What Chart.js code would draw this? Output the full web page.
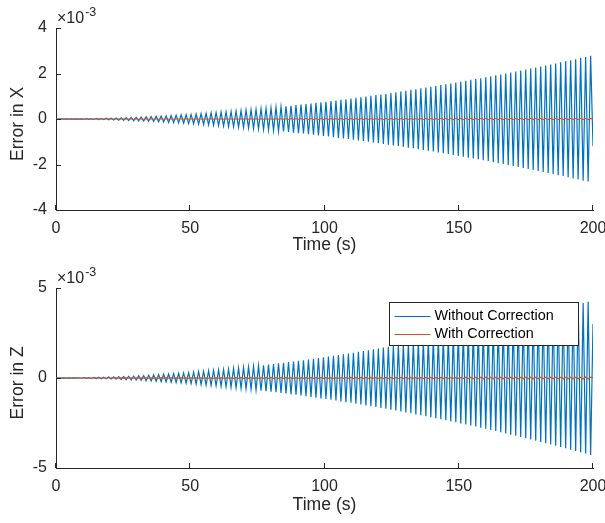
<!DOCTYPE html>
<html>
<head>
<meta charset="utf-8">
<script src="https://cdn.jsdelivr.net/npm/chart.js@4.4.1/dist/chart.umd.min.js"></script>
<style>
  html, body { margin: 0; padding: 0; background: #ffffff; }
  #wrap { position: relative; width: 605px; height: 523px; overflow: hidden; background: #ffffff; }
  canvas { position: absolute; left: 0; }
  #cx { top: 0; }
  #cz { top: 261px; }
</style>
</head>
<body>
<div id="wrap">
  <canvas id="cx" width="605" height="261"></canvas>
  <canvas id="cz" width="605" height="262"></canvas>
</div>
<script>
// ---- data (errors in units of 1e-3, time in seconds) ----
const timeS = [
0,1.03,1.96,2.89,3.82,4.75,5.68,6.61,7.54,8.47,
9.4,10.33,11.26,12.19,13.12,14.05,14.98,15.91,16.84,17.77,
18.7,19.63,20.56,21.49,22.42,23.35,24.28,25.21,26.14,27.07,
28,28.93,29.86,30.79,31.72,32.65,33.58,34.51,35.44,36.37,
37.3,38.23,39.16,40.09,41.02,41.95,42.88,43.81,44.74,45.67,
46.6,47.53,48.46,49.39,50.32,51.25,52.18,53.11,54.04,54.97,
55.9,56.83,57.76,58.69,59.62,60.55,61.48,62.41,63.34,64.27,
65.2,66.13,67.06,67.99,68.92,69.85,70.78,71.71,72.64,73.57,
74.5,75.43,76.36,77.29,78.22,79.15,80.08,81.01,81.94,82.87,
83.8,84.73,85.66,86.59,87.52,88.45,89.38,90.31,91.24,92.17,
93.1,94.03,94.96,95.89,96.82,97.75,98.68,99.61,100.54,101.47,
102.4,103.33,104.26,105.19,106.12,107.05,107.98,108.91,109.84,110.77,
111.7,112.63,113.56,114.49,115.42,116.35,117.28,118.21,119.14,120.07,
121,121.93,122.86,123.79,124.72,125.65,126.58,127.51,128.44,129.37,
130.3,131.23,132.16,133.09,134.02,134.95,135.88,136.81,137.74,138.67,
139.6,140.53,141.46,142.39,143.32,144.25,145.18,146.11,147.04,147.97,
148.9,149.83,150.76,151.69,152.62,153.55,154.48,155.41,156.34,157.27,
158.2,159.13,160.06,160.99,161.92,162.85,163.78,164.71,165.64,166.57,
167.5,168.43,169.36,170.29,171.22,172.15,173.08,174.01,174.94,175.87,
176.8,177.73,178.66,179.59,180.52,181.45,182.38,183.31,184.24,185.17,
186.1,187.03,187.96,188.89,189.82,190.75,191.68,192.61,193.54,194.47,
195.4,196.33,197.26,198.19,199.12,200
];

const errXWithout = [
0,-0.001,0.002,-0.003,0.004,-0.004,0.005,-0.006,0.007,-0.008,
0.009,-0.010,0.013,-0.015,0.017,-0.020,0.022,-0.025,0.027,-0.029,
0.032,-0.034,0.037,-0.041,0.045,-0.049,0.053,-0.056,0.060,-0.064,
0.068,-0.072,0.075,-0.080,0.086,-0.091,0.096,-0.10,0.11,-0.11,
0.12,-0.12,0.13,-0.13,0.14,-0.15,0.15,-0.16,0.17,-0.17,
0.18,-0.18,0.19,-0.20,0.20,-0.21,0.22,-0.23,0.24,-0.24,
0.25,-0.26,0.27,-0.27,0.28,-0.29,0.30,-0.31,0.32,-0.33,
0.33,-0.34,0.35,-0.36,0.37,-0.38,0.39,-0.40,0.41,-0.42,
0.43,-0.44,0.45,-0.46,0.47,-0.48,0.49,-0.50,0.52,-0.53,
0.54,-0.55,0.56,-0.57,0.58,-0.60,0.61,-0.62,0.63,-0.64,
0.66,-0.67,0.68,-0.69,0.71,-0.72,0.73,-0.75,0.76,-0.77,
0.79,-0.80,0.81,-0.83,0.84,-0.86,0.87,-0.88,0.90,-0.91,
0.93,-0.94,0.96,-0.97,0.99,-1.00,1.02,-1.03,1.05,-1.06,
1.08,-1.10,1.11,-1.13,1.14,-1.16,1.18,-1.19,1.21,-1.22,
1.24,-1.26,1.28,-1.29,1.31,-1.33,1.35,-1.36,1.38,-1.40,
1.42,-1.43,1.45,-1.47,1.49,-1.51,1.53,-1.54,1.56,-1.58,
1.60,-1.62,1.64,-1.66,1.68,-1.70,1.72,-1.74,1.76,-1.77,
1.79,-1.81,1.83,-1.85,1.88,-1.90,1.92,-1.94,1.96,-1.98,
2.00,-2.02,2.04,-2.06,2.09,-2.11,2.13,-2.15,2.17,-2.20,
2.22,-2.24,2.26,-2.28,2.31,-2.33,2.35,-2.37,2.40,-2.42,
2.44,-2.47,2.49,-2.51,2.54,-2.56,2.58,-2.61,2.63,-2.66,
2.68,-2.71,2.73,-2.75,2.78,-1.20
];

const errXWith = [
0,0,0,0,0,0,0,0,0,0,
0,0,0,0,0,0,0,0,0,0,
0,0,0,0,0,0,0,0,0,0,
0,-0.01,0.01,-0.01,0.01,-0.01,0.01,-0.01,0.01,-0.01,
0.01,-0.01,0.01,-0.01,0.01,-0.01,0.01,-0.01,0.01,-0.01,
0.01,-0.01,0.01,-0.01,0.01,-0.01,0.01,-0.01,0.01,-0.01,
0.01,-0.01,0.01,-0.01,0.01,-0.01,0.01,-0.01,0.01,-0.01,
0.01,-0.01,0.01,-0.01,0.01,-0.01,0.01,-0.01,0.01,-0.01,
0.01,-0.01,0.01,-0.01,0.01,-0.01,0.01,-0.01,0.01,-0.01,
0.01,-0.01,0.01,-0.02,0.02,-0.02,0.02,-0.02,0.02,-0.02,
0.02,-0.02,0.02,-0.02,0.02,-0.02,0.02,-0.02,0.02,-0.02,
0.02,-0.02,0.02,-0.02,0.02,-0.02,0.02,-0.02,0.02,-0.02,
0.02,-0.02,0.02,-0.02,0.02,-0.02,0.02,-0.02,0.02,-0.02,
0.02,-0.02,0.02,-0.02,0.02,-0.02,0.02,-0.02,0.02,-0.02,
0.02,-0.02,0.02,-0.02,0.02,-0.02,0.02,-0.02,0.02,-0.02,
0.02,-0.02,0.02,-0.02,0.03,-0.03,0.03,-0.03,0.03,-0.03,
0.03,-0.03,0.03,-0.03,0.03,-0.03,0.03,-0.03,0.03,-0.03,
0.03,-0.03,0.03,-0.03,0.03,-0.03,0.03,-0.03,0.03,-0.03,
0.03,-0.03,0.03,-0.03,0.03,-0.03,0.03,-0.03,0.03,-0.03,
0.03,-0.03,0.03,-0.03,0.03,-0.03,0.03,-0.03,0.03,-0.03,
0.03,-0.03,0.03,-0.03,0.03,-0.03,0.03,-0.03,0.03,-0.03,
0.03,-0.03,0.03,-0.03,0.03,-0.01
];

const errZWithout = [
0,0.002,-0.003,0.005,-0.006,0.006,-0.008,0.009,-0.011,0.012,
-0.014,0.015,-0.020,0.023,-0.026,0.031,-0.034,0.039,-0.042,0.045,
-0.049,0.052,-0.057,0.063,-0.069,0.075,-0.082,0.086,-0.092,0.099,
-0.11,0.11,-0.12,0.12,-0.13,0.14,-0.15,0.16,-0.16,0.17,
-0.18,0.19,-0.20,0.21,-0.21,0.22,-0.23,0.24,-0.25,0.26,
-0.27,0.28,-0.29,0.30,-0.31,0.33,-0.34,0.35,-0.36,0.37,
-0.39,0.40,-0.41,0.42,-0.43,0.45,-0.46,0.47,-0.49,0.50,
-0.51,0.53,-0.54,0.56,-0.57,0.59,-0.60,0.62,-0.63,0.65,
-0.66,0.68,-0.70,0.71,-0.73,0.74,-0.76,0.78,-0.79,0.81,
-0.83,0.85,-0.86,0.88,-0.90,0.92,-0.93,0.95,-0.97,0.99,
-1.01,1.03,-1.05,1.07,-1.09,1.11,-1.13,1.15,-1.17,1.19,
-1.21,1.23,-1.25,1.27,-1.30,1.32,-1.34,1.36,-1.38,1.40,
-1.43,1.45,-1.47,1.50,-1.52,1.54,-1.57,1.59,-1.61,1.64,
-1.66,1.69,-1.71,1.74,-1.76,1.79,-1.81,1.84,-1.86,1.89,
-1.91,1.94,-1.96,1.99,-2.02,2.05,-2.07,2.10,-2.13,2.15,
-2.18,2.21,-2.24,2.26,-2.29,2.32,-2.35,2.38,-2.41,2.44,
-2.46,2.49,-2.52,2.55,-2.58,2.61,-2.64,2.67,-2.70,2.73,
-2.76,2.79,-2.82,2.86,-2.89,2.92,-2.95,2.99,-3.02,3.05,
-3.08,3.11,-3.15,3.18,-3.21,3.25,-3.28,3.31,-3.35,3.38,
-3.41,3.45,-3.48,3.51,-3.55,3.59,-3.62,3.66,-3.69,3.73,
-3.76,3.80,-3.83,3.87,-3.90,3.94,-3.98,4.02,-4.05,4.09,
-4.13,4.17,-4.20,4.24,-4.28,3.00
];

const errZWith = [
0,0,0,0,0,0,0,0,0,0,
0,0,0,0,0,0,0,0,0,0,
0,0,0,0,0.01,-0.01,0.01,-0.01,0.01,-0.01,
0.01,-0.01,0.01,-0.01,0.01,-0.01,0.01,-0.01,0.01,-0.01,
0.01,-0.01,0.01,-0.01,0.01,-0.01,0.01,-0.01,0.01,-0.01,
0.01,-0.01,0.01,-0.01,0.01,-0.01,0.01,-0.01,0.01,-0.01,
0.01,-0.01,0.01,-0.01,0.01,-0.01,0.01,-0.01,0.01,-0.01,
0.01,-0.02,0.02,-0.02,0.02,-0.02,0.02,-0.02,0.02,-0.02,
0.02,-0.02,0.02,-0.02,0.02,-0.02,0.02,-0.02,0.02,-0.02,
0.02,-0.02,0.02,-0.02,0.02,-0.02,0.02,-0.02,0.02,-0.02,
0.02,-0.02,0.02,-0.02,0.02,-0.02,0.02,-0.02,0.02,-0.02,
0.02,-0.02,0.02,-0.02,0.02,-0.02,0.02,-0.02,0.03,-0.03,
0.03,-0.03,0.03,-0.03,0.03,-0.03,0.03,-0.03,0.03,-0.03,
0.03,-0.03,0.03,-0.03,0.03,-0.03,0.03,-0.03,0.03,-0.03,
0.03,-0.03,0.03,-0.03,0.03,-0.03,0.03,-0.03,0.03,-0.03,
0.03,-0.03,0.03,-0.03,0.03,-0.03,0.03,-0.03,0.03,-0.03,
0.03,-0.03,0.03,-0.03,0.04,-0.04,0.04,-0.04,0.04,-0.04,
0.04,-0.04,0.04,-0.04,0.04,-0.04,0.04,-0.04,0.04,-0.04,
0.04,-0.04,0.04,-0.04,0.04,-0.04,0.04,-0.04,0.04,-0.04,
0.04,-0.04,0.04,-0.04,0.04,-0.04,0.04,-0.04,0.04,-0.04,
0.04,-0.04,0.04,-0.04,0.04,-0.04,0.04,-0.04,0.04,-0.04,
0.04,-0.05,0.05,-0.05,0.05,0.02
];

const timeTicks = [0, 50, 100, 150, 200];
const xErrTicks = [-4, -2, 0, 2, 4];
const zErrTicks = [-5, 0, 5];
const seriesNames = ['Without Correction', 'With Correction'];
const axisTitles = { time: 'Time (s)', x: 'Error in X', z: 'Error in Z' };
const exponentText = { base: '\u00d710', exp: '-3' };

// ---- styling ----
const FONT = '"Liberation Sans", Arial, Helvetica, sans-serif';
const AXIS_COLOR = '#262626';
const BLUE = '#0072BD';
const ORANGE = '#D95319';

const toPoints = (xs, ys) => xs.map((x, i) => ({ x: x, y: ys[i] }));

const matlabDecor = {
  id: 'matlabDecor',
  afterDraw(chart, args, opts) {
    const { ctx, chartArea: a, scales } = chart;
    const xs = scales.x, ys = scales.y;
    ctx.save();
    // inward tick marks
    ctx.strokeStyle = AXIS_COLOR;
    ctx.lineWidth = 1;
    ctx.beginPath();
    xs.ticks.forEach(t => {
      const px = Math.round(xs.getPixelForValue(t.value)) - 0.5;
      ctx.moveTo(px, a.bottom);
      ctx.lineTo(px, a.bottom - 5);
    });
    ys.ticks.forEach(t => {
      const py = Math.round(ys.getPixelForValue(t.value)) + 0.5;
      ctx.moveTo(a.left, py);
      ctx.lineTo(a.left + 5, py);
    });
    ctx.stroke();
    // exponent label
    ctx.fillStyle = AXIS_COLOR;
    ctx.textAlign = 'left';
    ctx.textBaseline = 'alphabetic';
    ctx.font = '16px ' + FONT;
    ctx.fillText(exponentText.base, a.left + 1, a.top - 5);
    const w = ctx.measureText(exponentText.base).width;
    ctx.font = '12.5px ' + FONT;
    ctx.fillText(exponentText.exp, a.left + 2 + w, a.top - 12);
    // legend
    if (opts && opts.legend) {
      const bx = 389.5, by = 302.5 - 261, bw = 189, bh = 43;
      ctx.fillStyle = '#ffffff';
      ctx.fillRect(bx, by, bw, bh);
      ctx.strokeStyle = AXIS_COLOR;
      ctx.lineWidth = 1;
      ctx.strokeRect(bx, by, bw, bh);
      ctx.font = '14.4px ' + FONT;
      ctx.textBaseline = 'middle';
      chart.data.datasets.forEach((ds, i) => {
        const rowY = by + 13 + i * 18;
        ctx.strokeStyle = ds.borderColor;
        ctx.lineWidth = 1.2;
        ctx.beginPath();
        ctx.moveTo(bx + 5, Math.round(rowY) + 0.5);
        ctx.lineTo(bx + 41, Math.round(rowY) + 0.5);
        ctx.stroke();
        ctx.fillStyle = '#000000';
        ctx.fillText(ds.label, bx + 45, rowY + 1);
      });
    }
    ctx.restore();
  }
};

function makeChart(canvasId, withoutVals, withVals, yTicks, yTitle, geom, showLegend) {
  return new Chart(document.getElementById(canvasId), {
    type: 'line',
    data: {
      datasets: [
        { label: seriesNames[0], data: toPoints(timeS, withoutVals), borderColor: BLUE, backgroundColor: BLUE,
          borderWidth: 1.2, pointRadius: 0, tension: 0, fill: false, order: 2 },
        { label: seriesNames[1], data: toPoints(timeS, withVals), borderColor: ORANGE, backgroundColor: ORANGE,
          borderWidth: 1.2, pointRadius: 0, tension: 0, fill: false, order: 1 }
      ]
    },
    options: {
      responsive: false,
      animation: false,
      events: [],
      layout: { padding: { left: 0, right: 12, top: geom.top, bottom: 0 } },
      plugins: {
        legend: { display: false },
        tooltip: { enabled: false },
        matlabDecor: { legend: showLegend }
      },
      scales: {
        x: {
          type: 'linear', min: 0, max: 200,
          afterBuildTicks: s => { s.ticks = timeTicks.map(v => ({ value: v })); },
          afterFit: s => { s.height = geom.xh; s.paddingLeft = 0; s.paddingRight = 0; },
          grid: { display: true, drawOnChartArea: false, drawTicks: false },
          border: { display: true, color: AXIS_COLOR, width: 1 },
          ticks: { color: AXIS_COLOR, font: { family: FONT, size: 16 }, padding: 9, maxRotation: 0 },
          title: { display: true, text: axisTitles.time, color: AXIS_COLOR,
                   font: { family: FONT, size: 17.6 }, padding: { top: 0, bottom: geom.tpad } }
        },
        y: {
          type: 'linear', min: yTicks[0], max: yTicks[yTicks.length - 1],
          afterBuildTicks: s => { s.ticks = yTicks.map(v => ({ value: v })); },
          afterFit: s => { s.width = 56; s.paddingTop = 0; s.paddingBottom = 0; },
          grid: { display: true, drawOnChartArea: false, drawTicks: false },
          border: { display: true, color: AXIS_COLOR, width: 1 },
          ticks: { color: AXIS_COLOR, font: { family: FONT, size: 16 }, padding: 9 },
          title: { display: true, text: yTitle + '  ', color: AXIS_COLOR,
                   font: { family: FONT, size: 17.6 }, padding: { top: 8, bottom: 0 } }
        }
      }
    },
    plugins: [matlabDecor]
  });
}

makeChart('cx', errXWithout, errXWith, xErrTicks, axisTitles.x, { top: 28, xh: 51, tpad: 5.5 }, false);
makeChart('cz', errZWithout, errZWith, zErrTicks, axisTitles.z, { top: 27, xh: 55, tpad: 7.5 }, true);
</script>
</body>
</html>
